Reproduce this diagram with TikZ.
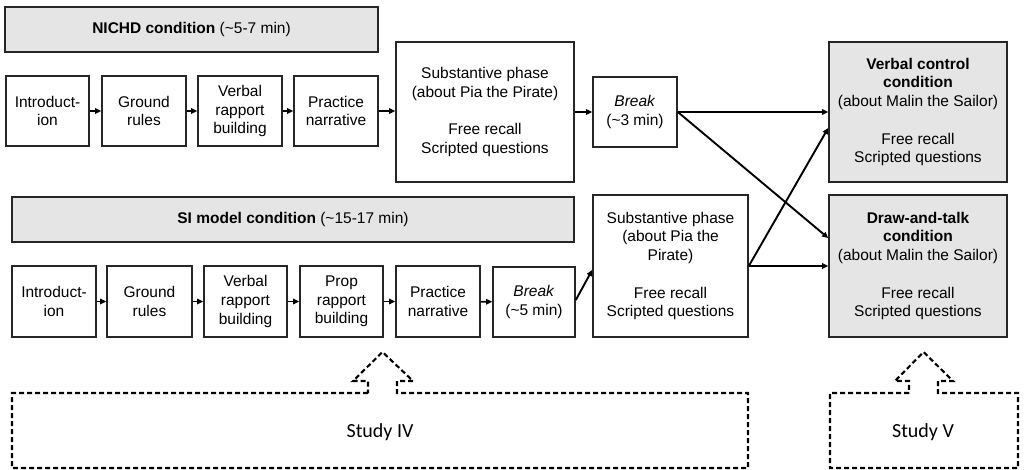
\documentclass[tikz,border=0pt]{standalone}
\usepackage{fontspec}
\setmainfont{Liberation Sans}
\newfontfamily\calibri{Carlito}
\usetikzlibrary{arrows.meta,calc}
\tikzset{
  box/.style={draw=black!85, line width=1.6pt, fill=white, inner sep=0pt, align=center,
    font=\fontsize{15.5}{18.7}\selectfont},
  graybox/.style={box, fill=black!10},
  arr/.style={line width=1.9pt, -{Triangle[length=6pt,width=5.5pt]}},
  dashbox/.style={line width=2.1pt, dash pattern=on 5pt off 3pt, line join=miter},
  studytext/.style={font=\calibri\fontsize{20}{24}\selectfont}
}
\begin{document}
\begin{tikzpicture}[x=1pt,y=-1pt]
\useasboundingbox (0,0) rectangle (1031,470);
% NICHD row
\node[graybox, minimum width=373pt, minimum height=45pt] (nb) at (191.5,29.5) {\textbf{NICHD condition} (\textasciitilde5-7 min)};
\node[box, minimum width=83pt, minimum height=70pt] (n1) at (47.5,111) {Introduct-\\ion};
\node[box, minimum width=84pt, minimum height=70pt] (n2) at (144,111) {Ground\\rules};
\node[box, minimum width=84pt, minimum height=70pt] (n3) at (240,111) {Verbal\\rapport\\building};
\node[box, minimum width=84pt, minimum height=70pt] (n4) at (336,111) {Practice\\narrative};
\node[box, minimum width=178pt, minimum height=140pt] (ns) at (485,112) {Substantive phase\\(about Pia the Pirate)\\[18.7pt]Free recall\\Scripted questions};
\node[box, minimum width=84pt, minimum height=70pt] (nbr) at (635,112) {\textit{Break}\\(\textasciitilde3 min)};
\node[graybox, minimum width=178pt, minimum height=140pt] (vc) at (918,112) {\textbf{Verbal control}\\\textbf{condition}\\(about Malin the Sailor)\\[18.7pt]Free recall\\Scripted questions};
% SI row
\node[graybox, minimum width=562pt, minimum height=45pt] (sb) at (293,219.5) {\textbf{SI model condition} (\textasciitilde15-17 min)};
\node[box, minimum width=84pt, minimum height=71pt] (s1) at (54,301.5) {Introduct-\\ion};
\node[box, minimum width=85pt, minimum height=71pt] (s2) at (149.5,301.5) {Ground\\rules};
\node[box, minimum width=83pt, minimum height=71pt] (s3) at (245.5,301.5) {Verbal\\rapport\\building};
\node[box, minimum width=83pt, minimum height=71pt] (s4) at (341.5,301.5) {Prop\\rapport\\building};
\node[box, minimum width=84pt, minimum height=71pt] (s5) at (438,301.5) {Practice\\narrative};
\node[box, minimum width=82pt, minimum height=70pt] (s6) at (534,302) {\textit{Break}\\(\textasciitilde5 min)};
\node[box, minimum width=155pt, minimum height=142pt] (ss) at (670.5,266) {Substantive phase\\(about Pia the\\Pirate)\\[18.7pt]Free recall\\Scripted questions};
\node[graybox, minimum width=178pt, minimum height=142pt] (dt) at (918,266) {\textbf{Draw-and-talk}\\\textbf{condition}\\(about Malin the Sailor)\\[18.7pt]Free recall\\Scripted questions};
% arrows top
\draw[arr] (n1) -- (n2);
\draw[arr] (n2) -- (n3);
\draw[arr] (n3) -- (n4);
\draw[arr] (n4.east) -- (n4.east -| ns.west);
\draw[arr] (ns.east |- nbr.west) -- (nbr.west);
\draw[arr] (nbr.east) -- (vc.west);
\draw[arr] (nbr.east) -- ([yshift=28pt]dt.west);
% arrows bottom
\draw[arr] (s1) -- (s2);
\draw[arr] (s2) -- (s3);
\draw[arr] (s3) -- (s4);
\draw[arr] (s4) -- (s5);
\draw[arr] (s5) -- (s6);
\draw[arr] ([yshift=2pt]s6.east) -- ([yshift=-4pt]ss.west);
\draw[arr] (ss.east) -- ([yshift=-16pt]vc.west);
\draw[arr] (ss.east) -- (dt.west);
% study boxes
\draw[dashbox] (368,393) -- (12,393) -- (12,468) -- (748,468) -- (748,393) -- (397,393) -- (397,381) -- (413,381) -- (382.5,352) -- (353,381) -- (368,381) -- cycle;
\node[studytext] (st4) at (380,432) {Study IV};
\draw[dashbox] (909,393) -- (830,393) -- (830,468) -- (1018,468) -- (1018,393) -- (938,393) -- (938,381) -- (953,381) -- (923.5,352) -- (895,381) -- (909,381) -- cycle;
\node[studytext] (st5) at (923,432) {Study V};
\end{tikzpicture}
\end{document}
